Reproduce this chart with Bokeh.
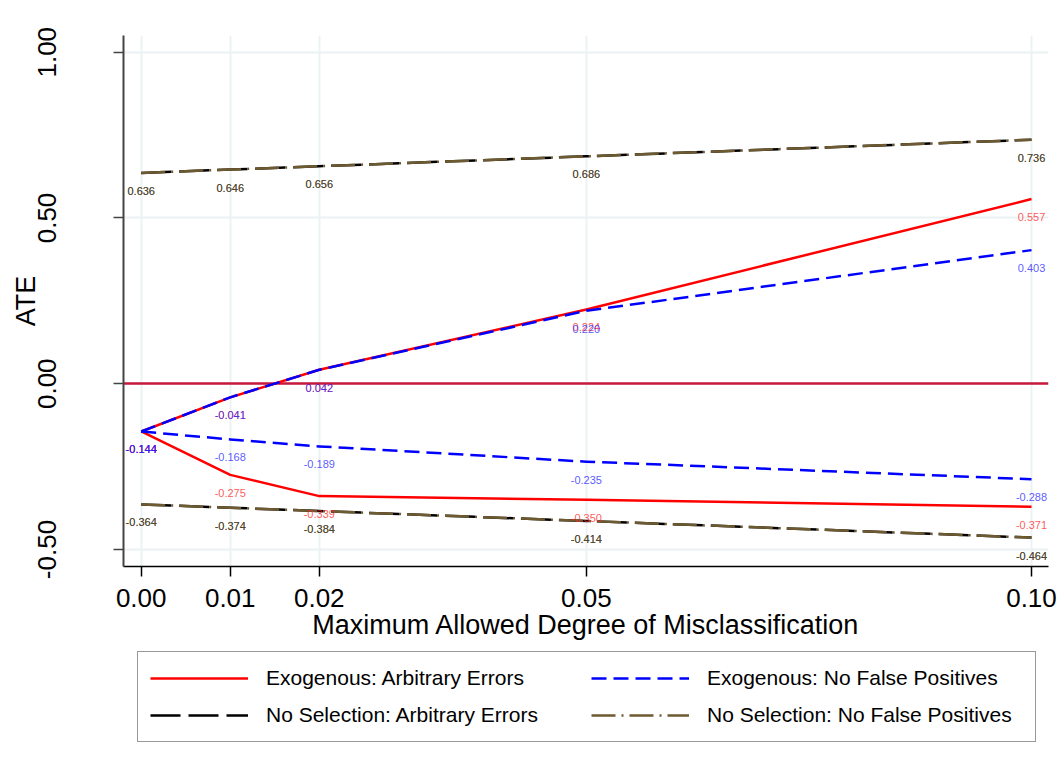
from bokeh.plotting import figure
from bokeh.layouts import column
from bokeh.models import Range1d, FixedTicker, Legend, LegendItem
from bokeh.core.properties import value
from bokeh.embed import file_html
from bokeh.resources import INLINE

# ---- data ----
x = [0.0, 0.01, 0.02, 0.05, 0.10]
exo_arb_upper = [-0.144, -0.041, 0.042, 0.224, 0.557]
exo_arb_lower = [-0.144, -0.275, -0.339, -0.350, -0.371]
exo_nfp_upper = [-0.144, -0.041, 0.042, 0.220, 0.403]
exo_nfp_lower = [-0.144, -0.168, -0.189, -0.235, -0.288]
nosel_arb_upper = [0.636, 0.646, 0.656, 0.686, 0.736]
nosel_arb_lower = [-0.364, -0.374, -0.384, -0.414, -0.464]
nosel_nfp_upper = [0.636, 0.646, 0.656, 0.686, 0.736]
nosel_nfp_lower = [-0.364, -0.374, -0.384, -0.414, -0.464]
series_names = ["Exogenous: Arbitrary Errors", "Exogenous: No False Positives",
                "No Selection: Arbitrary Errors", "No Selection: No False Positives"]
x_ticks = [0.0, 0.01, 0.02, 0.05, 0.10]
x_tick_labels = ["0.00", "0.01", "0.02", "0.05", "0.10"]
y_ticks = [-0.5, 0.0, 0.5, 1.0]
y_tick_labels = ["-0.50", "0.00", "0.50", "1.00"]
x_title = "Maximum Allowed Degree of Misclassification"
y_title = "ATE"

FONT = "Liberation Sans"
RED = "#ff0000"
BLUE = "#0000ff"
BLACK = "#000000"
BROWN = "#6e5a30"

STY = {
    "ea": dict(line_color=RED, line_width=2.5),
    "en": dict(line_color=BLUE, line_width=2.5, line_dash="15 7"),
    "na": dict(line_color=BLACK, line_width=2.5, line_dash="30 8"),
    "nn": dict(line_color=BROWN, line_width=2.5, line_dash="24 6 2 6"),
}

p = figure(width=1064, height=650,
           x_range=Range1d(-0.00199, 0.10191), y_range=Range1d(-0.5513, 1.0504),
           output_backend="svg", toolbar_location=None,
           min_border_left=123, min_border_right=16, min_border_top=35, min_border_bottom=84)
p.outline_line_color = None
p.background_fill_color = "white"
p.border_fill_color = "white"

# axes
p.xaxis.ticker = FixedTicker(ticks=x_ticks)
p.yaxis.ticker = FixedTicker(ticks=y_ticks)
p.xaxis.major_label_overrides = dict(zip(x_ticks, x_tick_labels))
p.yaxis.major_label_overrides = dict(zip(y_ticks, y_tick_labels))
p.xaxis.axis_label = x_title
p.yaxis.axis_label = y_title
for ax in (p.xaxis, p.yaxis):
    ax.major_label_text_font = FONT
    ax.major_label_text_font_size = "26px"
    ax.major_label_text_color = "black"
    ax.axis_label_text_font = FONT
    ax.axis_label_text_font_size = "27px"
    ax.axis_label_text_font_style = "normal"
    ax.axis_label_text_color = "black"
    ax.minor_tick_line_color = None
    ax.major_tick_out = 10
    ax.major_tick_in = 0
p.xaxis.axis_line_color = "black"
p.xaxis.axis_line_width = 1.5
p.xaxis.major_tick_line_color = "black"
p.xaxis.major_tick_line_width = 1.5
p.xaxis.major_label_standoff = 12
p.xaxis.axis_label_standoff = 0
p.yaxis.axis_line_color = "#444444"
p.yaxis.axis_line_width = 2
p.yaxis.major_tick_line_color = "#444444"
p.yaxis.major_tick_line_width = 1.5
p.yaxis.major_label_orientation = "vertical"
p.yaxis.major_label_standoff = 57
p.yaxis.axis_label_standoff = -5

p.grid.grid_line_color = "#eaf2f3"
p.grid.grid_line_width = 2

# zero line
p.hspan(y=[0], line_color="#c8183c", line_width=2.5)

r_ea_u = p.line(x, exo_arb_upper, line_join="round", **STY["ea"])
r_ea_l = p.line(x, exo_arb_lower, line_join="round", **STY["ea"])
r_en_u = p.line(x, exo_nfp_upper, line_join="round", **STY["en"])
r_en_l = p.line(x, exo_nfp_lower, line_join="round", **STY["en"])
r_na_u = p.line(x, nosel_arb_upper, line_join="round", **STY["na"])
r_na_l = p.line(x, nosel_arb_lower, line_join="round", **STY["na"])
r_nn_u = p.line(x, nosel_nfp_upper, line_join="round", **STY["nn"])
r_nn_l = p.line(x, nosel_nfp_lower, line_join="round", **STY["nn"])

# point labels
def labels(vals, color):
    p.text(x=x, y=vals, text=[f"{v:.3f}" for v in vals],
           text_font=value(FONT), text_font_size="11px", text_color=color,
           text_alpha=0.75, text_align="center", text_baseline="middle", y_offset=18)

labels(exo_arb_upper, "#ff2020")
labels(exo_arb_lower, "#ff2020")
labels(exo_nfp_upper, "#2020ff")
labels(exo_nfp_lower, "#2020ff")
labels(nosel_arb_upper, "#000000")
labels(nosel_arb_lower, "#000000")
labels(nosel_nfp_upper, "#5a4820")
labels(nosel_nfp_lower, "#5a4820")

# legend lives in its own strip under the chart; its sample lines reuse the
# series data but the strip's ranges keep those lines out of view
p2 = figure(width=1064, height=113, output_backend="svg", toolbar_location=None,
            x_axis_type=None, y_axis_type=None, min_border=0,
            x_range=Range1d(10, 11), y_range=Range1d(10, 11))
p2.outline_line_color = None
p2.grid.visible = False
lg = {
    "ea": p2.line(x, exo_arb_upper, **STY["ea"]),
    "en": p2.line(x, exo_nfp_upper, **STY["en"]),
    "na": p2.line(x, nosel_arb_upper, **STY["na"]),
    "nn": p2.line(x, nosel_nfp_upper, **STY["nn"]),
}

legend = Legend(items=[
    LegendItem(label=series_names[0], renderers=[lg["ea"]]),
    LegendItem(label=series_names[1], renderers=[lg["en"]]),
    LegendItem(label=series_names[2], renderers=[lg["na"]]),
    LegendItem(label=series_names[3], renderers=[lg["nn"]]),
], orientation="horizontal", ncols=2, location=(14, 21))
legend.border_line_color = "#333333"
legend.border_line_width = 1
legend.background_fill_color = "white"
legend.padding = 12
legend.spacing = 9
legend.margin = 0
legend.glyph_width = 98
legend.glyph_height = 28
legend.label_height = 28
legend.label_width = 316
legend.label_standoff = 18
legend.label_text_font = FONT
legend.label_text_font_size = "21px"
legend.label_text_color = "black"
p2.add_layout(legend, "center")

layout = column(p, p2, spacing=0)
open("out.html", "w").write(file_html(layout, INLINE))
